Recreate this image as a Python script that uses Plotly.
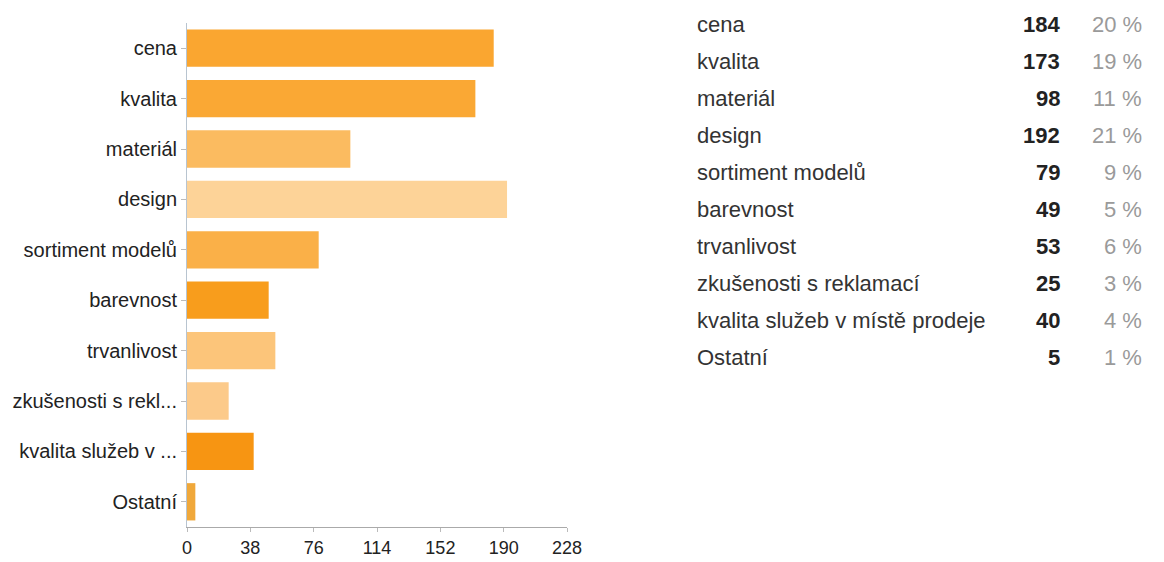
import plotly.graph_objects as go

# Survey answers: what matters most when choosing
categories = [
    "cena", "kvalita", "materiál", "design", "sortiment modelů",
    "barevnost", "trvanlivost", "zkušenosti s reklamací",
    "kvalita služeb v místě prodeje", "Ostatní",
]
axis_labels = [
    "cena", "kvalita", "materiál", "design", "sortiment modelů",
    "barevnost", "trvanlivost", "zkušenosti s rekl...",
    "kvalita služeb v ...", "Ostatní",
]
counts = [184, 173, 98, 192, 79, 49, 53, 25, 40, 5]
bar_colors = [
    "rgb(250,166,48)", "rgb(250,168,52)", "rgb(251,187,96)", "rgb(253,211,152)",
    "rgb(250,176,72)", "rgb(248,157,28)", "rgb(252,197,122)", "rgb(252,202,138)",
    "rgb(247,149,18)", "rgb(240,168,58)",
]
x_ticks = [0, 38, 76, 114, 152, 190, 228]

total = sum(counts)
percents = [f"{round(100 * c / total)} %" for c in counts]

W, H = 1164, 562
ML, MR, MT, MB = 187, 4, 23, 26
PW, PH = W - ML - MR, H - MT - MB


def px_x(x):
    return (x - ML) / PW


def px_y(y):
    return 1 - (y - MT) / PH


fig = go.Figure(
    go.Bar(
        x=counts,
        y=categories,
        orientation="h",
        width=0.74,
        marker=dict(color=bar_colors, line=dict(width=0)),
        hoverinfo="x+y",
    )
)

fig.update_layout(
    width=W,
    height=H,
    margin=dict(l=ML, r=MR, t=MT, b=MB),
    paper_bgcolor="white",
    plot_bgcolor="white",
    showlegend=False,
    font=dict(family="Liberation Sans, Arial, sans-serif", color="#222"),
    xaxis=dict(
        domain=[0, px_x(573)],
        range=[0, 228],
        tickvals=x_ticks,
        ticks="outside",
        ticklen=4,
        tickcolor="#bbb",
        showgrid=False,
        zeroline=False,
        showline=True,
        linecolor="#aaa",
        linewidth=1,
        tickfont=dict(size=18, color="#222"),
        fixedrange=True,
    ),
    yaxis=dict(
        categoryorder="array",
        categoryarray=categories,
        autorange="reversed",
        tickvals=categories,
        ticktext=axis_labels,
        ticks="outside",
        ticklen=5,
        tickcolor="#bbb",
        showgrid=False,
        zeroline=False,
        showline=True,
        linecolor="#b8c4d0",
        linewidth=1,
        tickfont=dict(size=20, color="#222"),
        fixedrange=True,
    ),
)

# Summary table on the right: name, count, share
row_top, row_step = 25, 37.6
for i, (name, n, pct) in enumerate(zip(categories, counts, percents)):
    yy = px_y(row_top + row_step * i)
    common = dict(xref="paper", yref="paper", y=yy, yanchor="middle", showarrow=False)
    fig.add_annotation(text=name, x=px_x(703), xanchor="left",
                       font=dict(size=22, color="#333"), **common)
    fig.add_annotation(text=f"<b>{n}</b>", x=px_x(1076), xanchor="right",
                       font=dict(size=22, color="#222"), **common)
    fig.add_annotation(text=pct, x=px_x(1159), xanchor="right",
                       font=dict(size=22, color="#9a9a9a"), **common)

fig.write_html("out.html")
